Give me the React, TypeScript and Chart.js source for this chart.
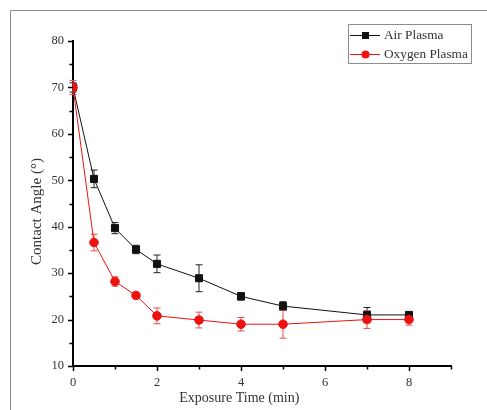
import React, { useEffect, useRef } from "react";
import { Chart, registerables } from "chart.js";

Chart.register(...registerables);

// ---- Data ----
const times = [0, 0.5, 1, 1.5, 2, 3, 4, 5, 7, 8];
const airPlasma = [70, 50.3, 39.7, 35.1, 32.0, 28.9, 25.0, 22.9, 21.0, 21.0];
const airError = [1.0, 1.9, 1.2, 0.9, 1.9, 2.9, 0.8, 0.95, 1.6, 0.5];
const oxygenPlasma = [70, 36.6, 28.2, 25.2, 20.8, 19.9, 19.0, 19.0, 20.0, 20.0];
const oxygenError = [1.5, 1.8, 1.0, 0.6, 1.7, 1.7, 1.45, 3.0, 1.9, 1.2];
const seriesNames = ["Air Plasma", "Oxygen Plasma"];
const xAxisTitle = "Exposure Time (min)";
const yAxisTitle = "Contact Angle (°)";
const xMin = 0;
const xMax = 9;
const yMin = 10;
const yMax = 80;

const FONT = "'Liberation Serif', 'Times New Roman', serif";
const AIR_COLOR = "#111111";
const OXY_COLOR = "#ee1111";

const errorSets = [airError, oxygenError];
const errorColors = ["#222222", "#e05050"];

const decorPlugin = {
  id: "decor",
  beforeDraw(chart: any) {
    const ctx = chart.ctx;
    ctx.save();
    ctx.strokeStyle = "#8c8c8c";
    ctx.lineWidth = 1;
    ctx.beginPath();
    ctx.moveTo(10.5, chart.height);
    ctx.lineTo(10.5, 10.5);
    ctx.lineTo(chart.width, 10.5);
    ctx.stroke();
    ctx.restore();
  },
  beforeDatasetsDraw(chart: any) {
    const ctx = chart.ctx;
    const xs = chart.scales.x;
    const ys = chart.scales.y;
    ctx.save();
    chart.data.datasets.forEach((ds: any) => {
      const errs = errorSets[ds.errIndex];
      ctx.strokeStyle = errorColors[ds.errIndex];
      ctx.lineWidth = 1;
      ds.data.forEach((p: any, j: number) => {
        const x = xs.getPixelForValue(p.x);
        const yt = ys.getPixelForValue(p.y + errs[j]);
        const yb = ys.getPixelForValue(p.y - errs[j]);
        const cap = 3.5;
        ctx.beginPath();
        ctx.moveTo(x, yt);
        ctx.lineTo(x, yb);
        ctx.moveTo(x - cap, yt);
        ctx.lineTo(x + cap, yt);
        ctx.moveTo(x - cap, yb);
        ctx.lineTo(x + cap, yb);
        ctx.stroke();
      });
    });
    ctx.restore();
  },
  afterDraw(chart: any) {
    const ctx = chart.ctx;
    const xs = chart.scales.x;
    const ys = chart.scales.y;
    const area = chart.chartArea;
    ctx.save();
    // tick marks
    ctx.strokeStyle = "#000";
    ctx.lineWidth = 1.5;
    ctx.beginPath();
    xs.ticks.forEach((t: any) => {
      const px = Math.round(xs.getPixelForValue(t.value)) + 0.5;
      const len = t.value % 2 === 0 ? 5 : 3.5;
      ctx.moveTo(px, area.bottom);
      ctx.lineTo(px, area.bottom + len);
    });
    ys.ticks.forEach((t: any) => {
      const py = Math.round(ys.getPixelForValue(t.value)) + 0.5;
      const len = t.value % 10 === 0 ? 5 : 3.5;
      ctx.moveTo(area.left, py);
      ctx.lineTo(area.left - len, py);
    });
    ctx.stroke();

    // axis titles
    ctx.fillStyle = "#333";
    ctx.font = `14px ${FONT}`;
    ctx.textAlign = "center";
    ctx.textBaseline = "middle";
    ctx.fillText(xAxisTitle, area.left + (area.right - area.left) * 0.44, 398);
    ctx.save();
    ctx.font = `15px ${FONT}`;
    ctx.translate(37, (area.top + area.bottom) / 2 + 8);
    ctx.rotate(-Math.PI / 2);
    ctx.fillText(yAxisTitle, 0, 0);
    ctx.restore();

    // legend
    const lx = 348, ly = 24, lw = 123, lh = 39;
    ctx.fillStyle = "#fff";
    ctx.fillRect(lx, ly, lw, lh);
    ctx.strokeStyle = "#8c8c8c";
    ctx.lineWidth = 1;
    ctx.strokeRect(lx + 0.5, ly + 0.5, lw, lh);
    const rows = [
      { name: seriesNames[0], color: AIR_COLOR, y: ly + 11 },
      { name: seriesNames[1], color: OXY_COLOR, y: ly + 30 },
    ];
    rows.forEach((r, i) => {
      ctx.strokeStyle = r.color;
      ctx.lineWidth = 1;
      ctx.beginPath();
      ctx.moveTo(lx + 2, r.y + 0.5);
      ctx.lineTo(lx + 32, r.y + 0.5);
      ctx.stroke();
      ctx.fillStyle = r.color;
      if (i === 0) {
        ctx.fillRect(lx + 14, r.y - 3, 7, 7);
      } else {
        ctx.beginPath();
        ctx.arc(lx + 17.5, r.y + 0.5, 4, 0, Math.PI * 2);
        ctx.fill();
      }
      ctx.fillStyle = "#333";
      ctx.font = `13.3px ${FONT}`;
      ctx.textAlign = "left";
      ctx.textBaseline = "middle";
      ctx.fillText(r.name, lx + 36, r.y + 1);
    });
    ctx.restore();
  },
};

export default function App() {
  const canvasRef = useRef<HTMLCanvasElement | null>(null);

  useEffect(() => {
    if (!canvasRef.current) return;
    const airData = times.map((t, i) => ({ x: t, y: airPlasma[i] }));
    const oxyData = times.map((t, i) => ({ x: t, y: oxygenPlasma[i] }));
    const chart = new Chart(canvasRef.current, {
      type: "scatter",
      data: {
        datasets: [
          {
            label: seriesNames[0],
            data: airData,
            showLine: true,
            borderColor: AIR_COLOR,
            borderWidth: 1,
            pointStyle: "rect",
            pointRadius: 5,
            pointBackgroundColor: AIR_COLOR,
            pointBorderColor: AIR_COLOR,
            pointBorderWidth: 1,
            order: 1,
            errIndex: 0,
          } as any,
          {
            label: seriesNames[1],
            data: oxyData,
            showLine: true,
            borderColor: OXY_COLOR,
            borderWidth: 1,
            pointStyle: "circle",
            pointRadius: 4.3,
            pointBackgroundColor: OXY_COLOR,
            pointBorderColor: OXY_COLOR,
            pointBorderWidth: 1,
            order: 0,
            errIndex: 1,
          } as any,
        ],
      },
      options: {
        animation: false,
        responsive: false,
        layout: { padding: { top: 41, right: 36, left: 0, bottom: 0 } },
        plugins: {
          legend: { display: false },
          tooltip: { enabled: false },
          title: { display: false },
        },
        scales: {
          x: {
            type: "linear",
            position: "bottom",
            min: xMin,
            max: xMax,
            afterFit: (s: any) => {
              s.height = 44;
            },
            grid: { display: false, drawTicks: false },
            border: { display: true, color: "#000", width: 2 },
            ticks: {
              stepSize: 1,
              padding: 9,
              color: "#333",
              autoSkip: false,
              maxRotation: 0,
              font: { family: FONT, size: 12.5 },
              callback: (v: any) => (v % 2 === 0 && v < xMax ? String(v) : ""),
            },
          },
          y: {
            type: "linear",
            min: yMin,
            max: yMax,
            afterFit: (s: any) => {
              s.width = 73;
            },
            grid: { display: false, drawTicks: false },
            border: { display: true, color: "#000", width: 2 },
            ticks: {
              stepSize: 5,
              padding: 9,
              color: "#333",
              autoSkip: false,
              font: { family: FONT, size: 12.5 },
              callback: (v: any) => (v % 10 === 0 ? String(v) : ""),
            },
          },
        },
      } as any,
      plugins: [decorPlugin],
    });
    return () => chart.destroy();
  }, []);

  return (
    <div style={{ position: "fixed", left: 0, top: 0, width: 487, height: 410, background: "#fff" }}>
      <canvas ref={canvasRef} width={487} height={410} style={{ display: "block" }} />
    </div>
  );
}
